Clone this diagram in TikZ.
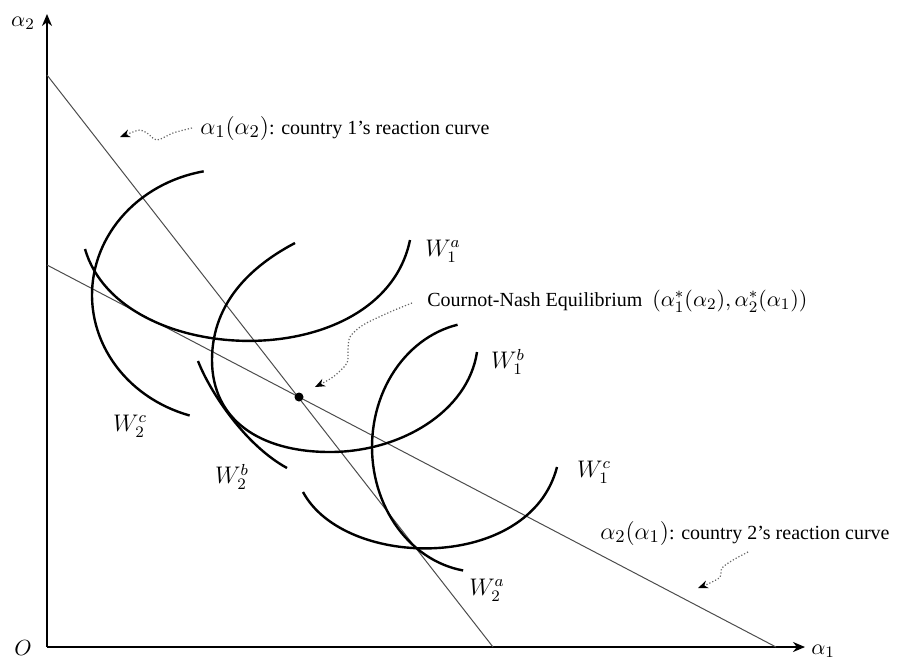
\documentclass[tikz,border=0pt]{standalone}
\usepackage{fontspec}
\setmainfont{Liberation Serif}
\usetikzlibrary{arrows.meta}
\newcommand{\mth}[1]{{\fontsize{11}{13}\selectfont$#1$}}
\newcommand{\bigmth}[1]{{\fontsize{12.5}{14}\selectfont$#1$}}

\begin{document}
\begin{tikzpicture}[x=0.5pt, y=-0.5pt,
    axis/.style={line width=1pt, -{Stealth[length=6pt,width=5pt]}},
    react/.style={line width=0.5pt, black!70},
    wcurve/.style={line width=1.2pt},
    squig/.style={densely dotted, black!60, line width=0.6pt, -{Stealth[length=5pt,width=4pt,black]}},
    lbl/.style={font=\fontsize{10}{12}\selectfont, inner sep=0pt, anchor=west},
    wlbl/.style={font=\large, inner sep=0pt}
]
\useasboundingbox (0,0) rectangle (914,660);

% axes
\coordinate (O) at (47,647);
\coordinate (ytop) at (47,14);
\coordinate (xend) at (805,647);
\draw[axis] (O) -- (ytop);
\draw[axis] (O) -- (xend);
\node (a2) at (23,23) {\mth{\alpha_2}};
\node (a1) at (823,651) {\mth{\alpha_1}};
\node (o) at (23,648) {\mth{O}};

% reaction curves
\coordinate (r1a) at (47,75);
\coordinate (r1b) at (493,647);
\coordinate (r2a) at (47,265);
\coordinate (r2b) at (776,647);
\draw[react] (r1a) -- (r1b);
\draw[react] (r2a) -- (r2b);

% welfare curves
\draw[wcurve] plot[domain=107:259, samples=60] ({230+138*cos(\x)}, {295+126*sin(\x)});
\draw[wcurve] (85,249) .. controls (120,370) and (382,376) .. (410,240);
\draw[wcurve] (295,243) .. controls (255,264) and (212,300) .. (212,360)
    .. controls (212,420) and (260,452) .. (330,452)
    .. controls (400,452) and (468,412) .. (477,352);
\draw[wcurve] (198,361) .. controls (210,392) and (245,445) .. (287,468);
\draw[wcurve] plot[domain=99:258, samples=60] ({480+108*cos(\x)}, {447+125*sin(\x)});
\draw[wcurve] (303,492) .. controls (345,570) and (530,572) .. (557,467);

\node[wlbl] (w1a) at (443,251) {$W_1^a$};
\node[wlbl] (w1b) at (508,362) {$W_1^b$};
\node[wlbl] (w1c) at (594,472) {$W_1^c$};
\node[wlbl] (w2a) at (487,590) {$W_2^a$};
\node[wlbl] (w2b) at (232,477) {$W_2^b$};
\node[wlbl] (w2c) at (130,426) {$W_2^c$};

% equilibrium
\node[circle, fill, inner sep=0pt, minimum size=4.5pt] (eq) at (299,397) {};

% labels and pointers
\node[lbl] (rc1) at (200,128) {\bigmth{\alpha_1(\alpha_2)}: country 1's reaction curve};
\node[lbl] (cne) at (427,301) {Cournot-Nash Equilibrium\ \ \mth{(\alpha_1^*(\alpha_2),\alpha_2^*(\alpha_1))}};
\node[lbl] (rc2) at (600,533) {\bigmth{\alpha_2(\alpha_1)}: country 2's reaction curve};

\coordinate (t1) at (120,137);
\coordinate (t2) at (315,387);
\coordinate (t3) at (698,588);
\draw[squig] plot[smooth] coordinates {(192,128) (173,133) (157,140) (147,133) (140,130) (133,132) (t1)};
\draw[squig] plot[smooth] coordinates {(412,303) (390,312) (363,325) (350,337) (348,350) (347,363) (333,377) (t2)};
\draw[squig] plot[smooth] coordinates {(748,552) (733,560) (722,568) (720,577) (710,583) (t3)};
\end{tikzpicture}
\end{document}
